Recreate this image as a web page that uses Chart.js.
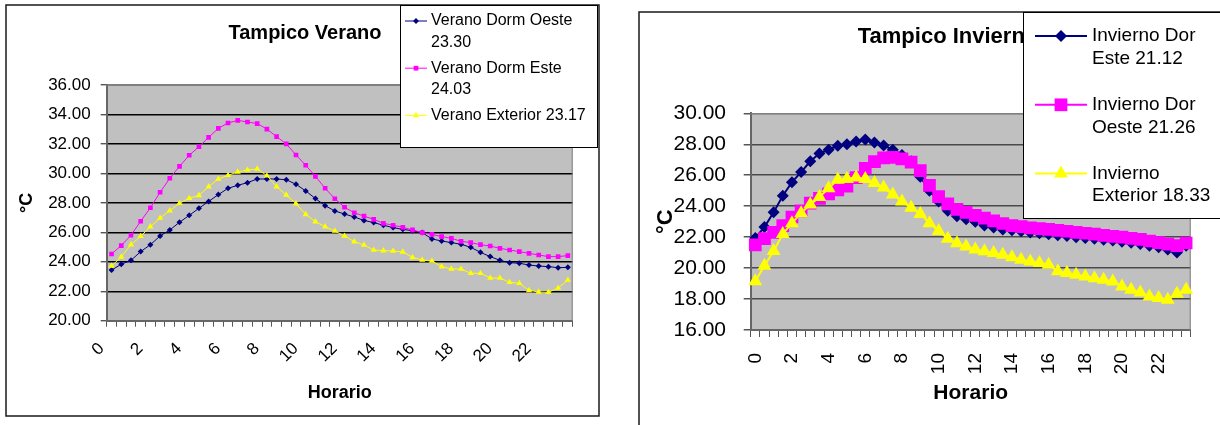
<!DOCTYPE html>
<html>
<head>
<meta charset="utf-8">
<script src="https://cdn.jsdelivr.net/npm/chart.js@4.4.1/dist/chart.umd.min.js"></script>
<style>
  html, body { margin: 0; padding: 0; background: #fff; width: 1220px; height: 425px; overflow: hidden; position: relative; }
  #wrapVerano { position: absolute; left: 0; top: 0; width: 610px; height: 425px; }
  #wrapInvierno { position: absolute; left: 610px; top: 0; width: 676px; height: 425px; }
  canvas { display: block; }
</style>
</head>
<body>
<div id="wrapVerano"><canvas id="verano" width="610" height="425"></canvas></div>
<div id="wrapInvierno"><canvas id="invierno" width="676" height="425"></canvas></div>
<script>
// Half-hour time steps across the day
const horas = ['0:00','0:30','1:00','1:30','2:00','2:30','3:00','3:30','4:00','4:30','5:00','5:30',
               '6:00','6:30','7:00','7:30','8:00','8:30','9:00','9:30','10:00','10:30','11:00','11:30',
               '12:00','12:30','13:00','13:30','14:00','14:30','15:00','15:30','16:00','16:30','17:00','17:30',
               '18:00','18:30','19:00','19:30','20:00','20:30','21:00','21:30','22:00','22:30','23:00','23:30'];
// Hour labels shown under every fourth step
const etiquetasX = ['0','2','4','6','8','10','12','14','16','18','20','22'];

// Summer temperatures (°C)
const veranoDormOeste = [23.44,23.83,24.10,24.69,25.16,25.75,26.16,26.68,27.15,27.63,28.10,28.56,
                         28.99,29.19,29.37,29.62,29.62,29.62,29.57,29.26,28.81,28.29,27.81,27.45,
                         27.24,27.04,26.81,26.66,26.48,26.32,26.20,26.11,25.98,25.55,25.41,25.30,
                         25.19,24.98,24.64,24.35,24.10,23.94,23.90,23.78,23.71,23.67,23.60,23.62];
const veranoDormEste  = [24.53,25.10,25.80,26.75,27.67,28.72,29.67,30.48,31.23,31.81,32.45,33.06,
                         33.42,33.60,33.49,33.38,33.01,32.49,32.00,31.25,30.55,29.80,28.99,28.28,
                         27.70,27.33,27.10,26.88,26.61,26.48,26.34,26.16,25.98,25.86,25.71,25.59,
                         25.39,25.30,25.16,25.07,24.91,24.80,24.69,24.57,24.46,24.35,24.35,24.42];
const veranoExterior  = [23.71,24.33,25.16,25.73,26.38,26.97,27.47,27.97,28.31,28.51,29.10,29.62,
                         29.87,30.10,30.23,30.30,29.85,29.10,28.53,27.95,27.22,26.72,26.38,26.09,
                         25.75,25.37,25.14,24.80,24.76,24.73,24.67,24.30,24.12,24.05,23.67,23.51,
                         23.51,23.22,23.22,22.90,22.90,22.61,22.54,22.06,21.95,21.93,22.22,22.76];

// Winter temperatures (°C)
const inviernoDorEste   = [21.95,22.65,23.60,24.67,25.55,26.20,26.90,27.40,27.65,27.90,28.00,28.18,
                           28.30,28.12,27.92,27.65,27.30,26.90,25.90,25.00,24.30,23.70,23.35,23.15,
                           23.00,22.75,22.62,22.50,22.45,22.38,22.30,22.25,22.18,22.12,22.07,22.00,
                           21.95,21.90,21.83,21.78,21.70,21.63,21.55,21.45,21.35,21.20,21.00,21.45];
const inviernoDorOeste  = [21.50,21.90,22.30,22.75,23.30,23.70,24.20,24.50,24.80,25.05,25.30,25.85,
                           26.45,26.88,27.12,27.15,27.05,26.85,26.30,25.35,24.62,24.15,23.80,23.60,
                           23.40,23.23,23.05,22.88,22.75,22.68,22.60,22.55,22.50,22.43,22.38,22.30,
                           22.25,22.20,22.12,22.05,22.00,21.92,21.85,21.75,21.65,21.55,21.45,21.62];
const inviernoExterior  = [19.15,20.15,21.10,22.20,22.90,23.55,24.10,24.60,25.15,25.70,25.75,25.85,
                           25.75,25.50,25.20,24.75,24.30,23.90,23.50,22.90,22.40,21.90,21.60,21.40,
                           21.20,21.08,20.97,20.86,20.70,20.54,20.43,20.33,20.22,19.80,19.68,19.57,
                           19.46,19.35,19.25,19.14,18.81,18.60,18.43,18.17,18.06,17.95,18.34,18.60];

// Legend text, one array of lines per series
const leyendaVerano   = [['Verano Dorm Oeste', '23.30'], ['Verano Dorm Este', '24.03'], ['Verano Exterior 23.17']];
const leyendaInvierno = [['Invierno Dor', 'Este 21.12'], ['Invierno Dor', 'Oeste 21.26'], ['Invierno', 'Exterior 18.33']];

const FAMILIA = "'Liberation Sans', Arial, Helvetica, sans-serif";
const AZUL = '#000080', MAGENTA = '#FF00FF', AMARILLO = '#FFFF00';

// Marker shapes shared by the legend (same geometry as Chart.js point styles)
function marcador(ctx, estilo, x, y, r, color) {
  ctx.save();
  ctx.fillStyle = color;
  ctx.beginPath();
  if (estilo === 'rect') {
    const s = Math.SQRT1_2 * r;
    ctx.rect(x - s, y - s, 2 * s, 2 * s);
  } else if (estilo === 'rectRot') {
    ctx.moveTo(x, y - r); ctx.lineTo(x + r, y); ctx.lineTo(x, y + r); ctx.lineTo(x - r, y);
    ctx.closePath();
  } else {
    ctx.moveTo(x, y - r);
    ctx.lineTo(x + r * Math.sin(2 * Math.PI / 3), y - r * Math.cos(2 * Math.PI / 3));
    ctx.lineTo(x + r * Math.sin(4 * Math.PI / 3), y - r * Math.cos(4 * Math.PI / 3));
    ctx.closePath();
  }
  ctx.fill();
  ctx.restore();
}

// White page, outer frame and grey plot background
function pluginFondo(marco) {
  return {
    id: 'fondo',
    beforeDraw(chart) {
      const { ctx, chartArea: a } = chart;
      ctx.save();
      ctx.fillStyle = '#fff';
      ctx.fillRect(0, 0, chart.width, chart.height);
      ctx.strokeStyle = '#1a1a1a';
      ctx.lineWidth = 1.5;
      ctx.strokeRect(marco[0], marco[1], marco[2], marco[3]);
      ctx.fillStyle = '#C0C0C0';
      ctx.fillRect(a.left, a.top, a.right - a.left, a.bottom - a.top);
      ctx.restore();
    },
    beforeDatasetsDraw(chart) {
      const { ctx, chartArea: a } = chart;
      ctx.save();
      ctx.strokeStyle = '#808080';
      ctx.lineWidth = 1;
      ctx.beginPath();
      ctx.moveTo(a.left, a.top + 0.5);
      ctx.lineTo(a.right - 0.5, a.top + 0.5);
      ctx.lineTo(a.right - 0.5, a.bottom);
      ctx.stroke();
      ctx.restore();
    }
  };
}

// Boxed legend drawn over the chart
function pluginLeyenda(cfg) {
  return {
    id: 'leyenda',
    afterDraw(chart) {
      const ctx = chart.ctx;
      ctx.save();
      ctx.fillStyle = '#fff';
      ctx.fillRect(cfg.caja[0], cfg.caja[1], cfg.caja[2], cfg.caja[3]);
      ctx.strokeStyle = '#000';
      ctx.lineWidth = 1;
      ctx.strokeRect(cfg.caja[0] + 0.5, cfg.caja[1] + 0.5, cfg.caja[2], cfg.caja[3]);
      ctx.font = cfg.fuente;
      ctx.textBaseline = 'middle';
      ctx.textAlign = 'left';
      chart.data.datasets.forEach((ds, i) => {
        const y = cfg.y0 + i * cfg.entrada;
        ctx.strokeStyle = ds.borderColor;
        ctx.lineWidth = ds.borderWidth;
        ctx.beginPath();
        ctx.moveTo(cfg.linea[0], y);
        ctx.lineTo(cfg.linea[1], y);
        ctx.stroke();
        marcador(ctx, ds.pointStyle, (cfg.linea[0] + cfg.linea[1]) / 2, y, ds.pointRadius, ds.backgroundColor);
        ctx.fillStyle = '#000';
        cfg.textos[i].forEach((t, j) => ctx.fillText(t, cfg.textoX, y + j * cfg.renglon));
      });
      ctx.restore();
    }
  };
}

function serie(label, data, color, estilo, radio, grosor, orden) {
  return {
    label, data, order: orden,
    borderColor: color, backgroundColor: color, borderWidth: grosor,
    pointStyle: estilo, pointRadius: radio, pointHoverRadius: radio,
    pointBorderWidth: 0, pointBackgroundColor: color, pointBorderColor: color,
    tension: 0, fill: false
  };
}

function crearGrafica(id, p) {
  return new Chart(document.getElementById(id), {
    type: 'line',
    data: {
      labels: horas,
      datasets: [
        serie(p.nombres[0], p.series[0], AZUL, 'rectRot', p.radios[0], p.grosor, 3),
        serie(p.nombres[1], p.series[1], MAGENTA, 'rect', p.radios[1], p.grosor, 2),
        serie(p.nombres[2], p.series[2], AMARILLO, 'triangle', p.radios[2], p.grosor, 1)
      ]
    },
    options: {
      responsive: false,
      animation: false,
      devicePixelRatio: 1,
      layout: { padding: 0 },
      plugins: {
        legend: { display: false },
        tooltip: { enabled: false },
        title: {
          display: true, text: p.titulo, color: '#000',
          font: { family: FAMILIA, size: p.tamTitulo, weight: 'bold' },
          padding: { top: p.tituloArriba, bottom: p.tituloAbajo }
        }
      },
      scales: {
        x: {
          type: 'category',
          offset: true,
          afterFit: s => { s.height = p.altoX; },
          grid: { display: true, drawOnChartArea: false, drawTicks: true, tickLength: p.marca, tickColor: '#555', offset: true },
          border: { display: true, color: '#666', width: 2 },
          ticks: {
            autoSkip: false, maxRotation: p.giro, minRotation: p.giro, padding: p.padX, labelOffset: p.despX,
            color: '#000', font: { family: FAMILIA, size: p.tamX },
            callback: (v, i) => (i % 4 === 0 ? etiquetasX[i / 4] : '')
          },
          title: {
            display: true, text: 'Horario', color: '#000',
            font: { family: FAMILIA, size: p.tamEje, weight: 'bold' },
            padding: { top: 0, bottom: p.horarioAbajo }
          }
        },
        y: {
          min: p.min, max: p.max,
          afterFit: s => { s.width = p.anchoY; },
          grid: {
            color: c => (c.tick && c.tick.value === p.max ? '#808080' : p.colorRejilla),
            lineWidth: p.anchoRejilla, tickLength: p.marca, tickColor: '#555'
          },
          border: { display: true, color: '#666', width: 2 },
          ticks: {
            stepSize: 2, padding: p.padY, color: '#000',
            font: { family: FAMILIA, size: p.tamY },
            callback: v => Number(v).toFixed(2)
          },
          title: {
            display: true, text: '°C', color: '#000',
            font: { family: FAMILIA, size: p.tamGrados, weight: 'bold' },
            padding: { top: p.gradosIzq, bottom: 0 }
          }
        },
        // empty margin on the right of the plot
        margen: {
          position: 'right', type: 'linear', display: true,
          afterFit: s => { s.width = p.margenDer; },
          grid: { display: false }, border: { display: false }, ticks: { display: false }
        }
      }
    },
    plugins: [pluginFondo(p.marco), pluginLeyenda(p.leyenda)]
  });
}

// Summer chart
crearGrafica('verano', {
  titulo: 'Tampico Verano', tamTitulo: 20, tituloArriba: 21, tituloAbajo: 40,
  nombres: ['Verano Dorm Oeste 23.30', 'Verano Dorm Este 24.03', 'Verano Exterior 23.17'],
  series: [veranoDormOeste, veranoDormEste, veranoExterior],
  radios: [3, 3.3, 3.6], grosor: 1,
  min: 20, max: 36, margenDer: 37.3, anchoY: 106.7, altoX: 104.3,
  marca: 6, giro: 45, padX: 12, despX: -10, tamX: 17, padY: 10, tamY: 17,
  tamEje: 18, horarioAbajo: 21, tamGrados: 18, gradosIzq: 16.2,
  colorRejilla: '#000', anchoRejilla: 1.4,
  marco: [6, 5, 593, 411],
  leyenda: { caja: [400, 5, 197, 142], fuente: '16px ' + FAMILIA, linea: [405, 427], textoX: 431,
             y0: 21, renglon: 21.6, entrada: 47.2, textos: leyendaVerano }
});

// Winter chart
crearGrafica('invierno', {
  titulo: 'Tampico Invierno', tamTitulo: 22, tituloArriba: 23.8, tituloAbajo: 63.1,
  nombres: ['Invierno Dor Este 21.12', 'Invierno Dor Oeste 21.26', 'Invierno Exterior 18.33'],
  series: [inviernoDorEste, inviernoDorOeste, inviernoExterior],
  radios: [6, 9, 8], grosor: 2,
  min: 16, max: 30, margenDer: 95.3, anchoY: 140.7, altoX: 95,
  marca: 7, giro: 90, padX: 16, despX: 0, tamX: 19, padY: 17.7, tamY: 21,
  tamEje: 21, horarioAbajo: 19.4, tamGrados: 22, gradosIzq: 42.8,
  colorRejilla: '#4a4a4a', anchoRejilla: 1.5,
  marco: [29, 12, 700, 500],
  leyenda: { caja: [413, 12, 300, 206], fuente: '19px ' + FAMILIA, linea: [425, 477], textoX: 482,
             y0: 36, renglon: 22.6, entrada: 68.8, textos: leyendaInvierno }
});
</script>
</body>
</html>
